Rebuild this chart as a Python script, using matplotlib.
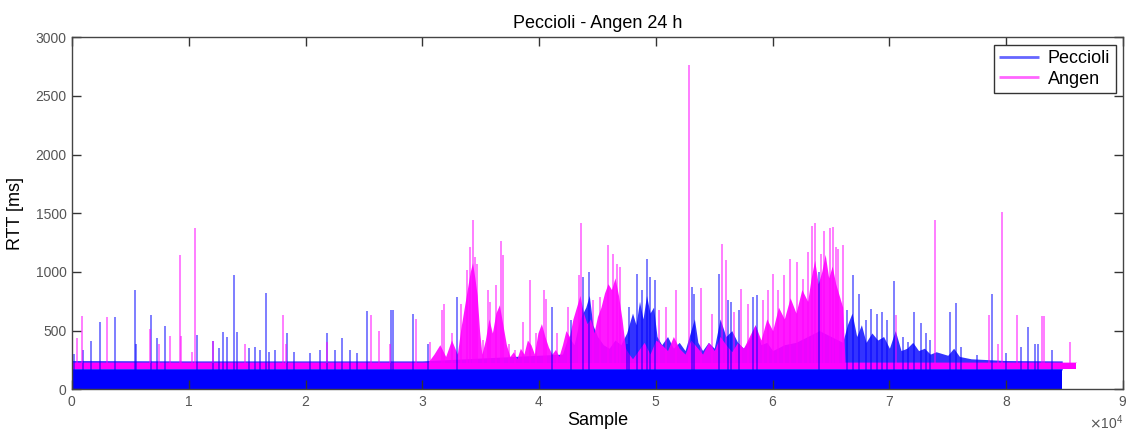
import matplotlib.pyplot as plt
from matplotlib.ticker import ScalarFormatter

plt.rcParams['font.family'] = ['Liberation Sans', 'DejaVu Sans']

# ---- values (x in samples, y in ms) ----
peccioli_end = 84800
angen_end = 86000

# solid low band of each trace
peccioli_floor = 0
peccioli_ceil = 165
angen_low = 172
angen_high = 228

# upper edge of the dense (solid-looking) part of each trace
peccioli_dense_x = [0, 10000, 20000, 30000, 42000, 42500, 43000, 43500, 44000, 44300,
                    44600, 45000, 45500, 46000, 46500, 47000, 47500, 48000, 48300,
                    48600, 48900, 49200, 49500, 49800, 50100, 50500, 51000, 51500,
                    52000, 52500, 53000, 53300, 53600, 54000, 54500, 55000, 55500,
                    56000, 56500, 57000, 57500, 58000, 58500, 59000, 59500, 60000,
                    61000, 62000, 63000, 64000, 65000, 66000, 66400, 66800, 67200,
                    67600, 68000, 68500, 69000, 69500, 70000, 70500, 71000, 71500,
                    72000, 72500, 73000, 73500, 74000, 75000, 75500, 76000, 77000,
                    80000, 84800]
peccioli_dense_y = [245, 242, 242, 242, 300, 450, 380, 600, 700, 800,
                    550, 450, 380, 350, 420, 380, 480, 650, 550,
                    750, 600, 800, 650, 700, 450, 380, 450, 350,
                    400, 330, 500, 600, 400, 330, 400, 350, 600,
                    450, 500, 400, 350, 420, 550, 380, 400, 330,
                    380, 400, 450, 500, 450, 400, 550, 650, 450,
                    550, 400, 480, 420, 450, 350, 500, 330, 350,
                    400, 330, 350, 300, 320, 290, 350, 280, 260,
                    245, 242]

angen_dense_x = [0, 30500, 31000, 31500, 32000, 32500, 33000, 33300, 33600, 33900,
                 34100, 34300, 34500, 34700, 34900, 35100, 35400, 35700, 36000,
                 36300, 36600, 36900, 37200, 37500, 37800, 38100, 38400, 38700,
                 39000, 39300, 39600, 39900, 40200, 40500, 40800, 41100, 41400,
                 41700, 42000, 42300, 42600, 42900, 43200, 43500, 43800, 44100,
                 44400, 44700, 45000, 45300, 45600, 45900, 46200, 46500, 46800,
                 47100, 47400, 47700, 48000, 48500, 49000, 49500, 50000, 50500,
                 51000, 51500, 52000, 52500, 53000, 53500, 54000, 54500, 55000,
                 55500, 56000, 56500, 57000, 57500, 58000, 58500, 59000, 59500,
                 60000, 60500, 61000, 61500, 62000, 62500, 63000, 63300, 63600,
                 63900, 64200, 64500, 64800, 65100, 65400, 65700, 66000, 66200,
                 86000]
angen_dense_y = [232, 232, 300, 380, 280, 420, 300, 520, 700, 880,
                 1000, 1080, 950, 800, 500, 300, 420, 600, 480,
                 650, 720, 550, 380, 280, 320, 260, 350, 300,
                 420, 380, 300, 480, 560, 450, 360, 300, 340,
                 280, 380, 500, 450, 600, 700, 800, 650, 560,
                 600, 480, 620, 700, 820, 900, 850, 950, 800,
                 600, 350, 300, 260, 330, 400, 300, 420, 380,
                 330, 450, 350, 300, 420, 360, 300, 400, 330,
                 450, 380, 320, 400, 350, 450, 550, 420, 600,
                 500, 700, 600, 780, 650, 850, 750, 950, 1100,
                 900, 1000, 1150, 950, 1050, 900, 800, 700, 232,
                 232]

# single spikes above the band
peccioli_spike_x = [200, 900, 1600, 2400, 3700, 5400, 5450, 6800, 7300, 8000, 10700,
                    12100, 12600, 12900, 13300, 13900, 14100, 15200, 15700, 16100,
                    16600, 16900, 17400, 18400, 19000, 20400, 21200, 21800, 22500,
                    23100, 23800, 24400, 25300, 27300, 27500, 29200, 30500, 33000,
                    41100, 42700, 43800, 44300, 47500, 47700, 48400, 48800, 49200,
                    49500, 49900, 53100, 53300, 55400, 56200, 56400, 57100, 58300,
                    58700, 64000, 66400, 66900, 67400, 68000, 68400, 68900, 69400,
                    69800, 70400, 71200, 71600, 72100, 72700, 73100, 73500, 75200,
                    75700, 76100, 77500, 78800, 80000, 81300, 81900, 82500, 82700,
                    83900]
peccioli_spike_y = [300, 334, 410, 575, 617, 850, 390, 632, 433, 538, 462,
                    413, 348, 490, 448, 972, 490, 348, 362, 334,
                    822, 320, 334, 482, 320, 306, 334, 482, 334,
                    433, 334, 306, 668, 674, 674, 646, 390, 788,
                    703, 589, 958, 1000, 390, 700, 986, 844, 1113,
                    958, 929, 873, 816, 980, 760, 745, 674, 788,
                    802, 1000, 674, 972, 816, 589, 688, 646, 660,
                    589, 920, 448, 405, 660, 561, 476, 419, 660,
                    737, 362, 292, 816, 306, 362, 532, 390, 390,
                    334]

angen_spike_x = [400, 860, 3000, 6700, 7450, 8400, 9260, 9300, 10260, 10570, 12060,
                 14800, 18060, 18300, 21800, 25600, 26300, 27200, 29500, 30700,
                 31700, 31900, 32500, 33300, 33800, 34100, 34300, 34500, 34700,
                 35200, 35600, 35800, 36300, 36700, 36900, 37400, 37900, 38600,
                 39200, 39700, 40400, 40600, 41500, 42500, 43400, 43600, 44600,
                 45200, 45900, 46300, 46700, 46900, 50300, 50900, 51700, 52800,
                 53900, 54800, 55700, 56000, 56700, 57300, 57900, 59200, 59600,
                 60000, 60500, 61000, 61500, 62100, 62600, 63000, 63400, 63600,
                 64100, 64400, 64900, 65200, 65400, 65600, 66000, 70600, 73900,
                 78500, 79300, 79600, 80900, 83100, 83200, 85500]
angen_spike_y = [433, 623, 617, 518, 390, 453, 1142, 453, 320, 1377, 413,
                 390, 632, 390, 405, 632, 498, 390, 603, 405,
                 674, 731, 476, 731, 1014, 1212, 1445, 1127, 1071,
                 419, 844, 745, 887, 1263, 1142, 390, 334, 575,
                 935, 476, 844, 773, 476, 703, 972, 1416, 759,
                 788, 1227, 1156, 1071, 1042, 674, 703, 844, 2765,
                 867, 646, 1235, 1100, 660, 858, 731, 759, 844,
                 986, 844, 972, 1113, 1085, 943, 1170, 1388, 1414,
                 1156, 1350, 1374, 1385, 1212, 1198, 1227, 632, 1440,
                 632, 390, 1510, 632, 623, 623, 405]

blue = '#0000ff'
magenta = '#ff00ff'
grey = '#555555'

fig = plt.figure(figsize=(11.32, 4.34), dpi=100)
ax = fig.add_axes([0.0636, 0.103, 0.9284, 0.811])

# Peccioli (drawn first, Angen lies on top)
ax.fill_between([0, peccioli_end], peccioli_floor, peccioli_ceil, color=blue, lw=0)
ax.fill_between(peccioli_dense_x, peccioli_ceil, peccioli_dense_y, color=blue, alpha=0.8, lw=0)
ax.vlines(peccioli_spike_x, peccioli_ceil, peccioli_spike_y, color=blue, alpha=0.55,
          lw=1.3, label='Peccioli')

# Angen
ax.fill_between([0, angen_end], angen_low, angen_high, color=magenta, lw=0)
ax.fill_between(angen_dense_x, angen_high, angen_dense_y, color=magenta, alpha=0.9, lw=0)
ax.vlines(angen_spike_x, angen_high, angen_spike_y, color=magenta, alpha=0.55,
          lw=1.3, label='Angen')

ax.set_xlim(0, 90000)
ax.set_ylim(0, 3000)
ax.set_xticks(range(0, 90001, 10000))
ax.set_yticks(range(0, 3001, 500))

fmt = ScalarFormatter(useMathText=True)
fmt.set_powerlimits((0, 0))
ax.xaxis.set_major_formatter(fmt)
ax.xaxis.get_offset_text().set_fontsize(10)
ax.xaxis.get_offset_text().set_color(grey)

ax.tick_params(direction='in', length=6.5, width=1, top=True, right=True,
               labelsize=10, labelcolor=grey, color='#333333', pad=4)
for s in ax.spines.values():
    s.set_color('#444444')
    s.set_linewidth(1)

ax.set_title('Peccioli - Angen 24 h', fontsize=13, pad=7)
ax.set_xlabel('Sample', fontsize=13, labelpad=2)
ax.set_ylabel('RTT [ms]', fontsize=13, labelpad=8)

leg = ax.legend(loc='upper right', fontsize=13, handlelength=2.2, frameon=True,
                fancybox=False, framealpha=1, edgecolor='#333333',
                borderaxespad=0.4, borderpad=0.3, labelspacing=0.2, handletextpad=0.5)
for h in leg.legend_handles:
    h.set_alpha(0.6)
    h.set_linewidth(2)

plt.savefig('out.png', dpi=100)
